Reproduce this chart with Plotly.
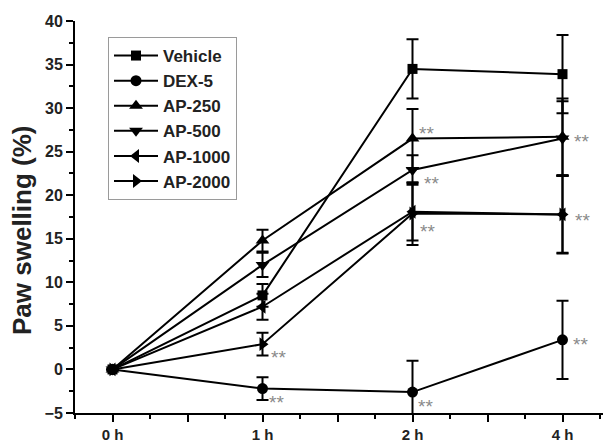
import plotly.graph_objects as go

# ---- data ----
time_labels = ["0 h", "1 h", "2 h", "4 h"]
time_pos = [0, 1, 2, 3]

series_names = ["Vehicle", "DEX-5", "AP-250", "AP-500", "AP-1000", "AP-2000"]
vehicle = [0, 8.5, 34.5, 33.9]
dex5 = [0, -2.2, -2.6, 3.4]
ap250 = [0, 14.8, 26.5, 26.7]
ap500 = [0, 12.0, 22.9, 26.5]
ap1000 = [0, 7.2, 18.1, 17.8]
ap2000 = [0, 2.9, 17.9, 17.8]

vehicle_err = [0, 1.3, 3.4, 4.5]
dex5_err = [0, 1.3, 3.6, 4.5]
ap250_err = [0, 1.25, 3.4, 4.4]
ap500_err = [0, 1.4, 1.7, 4.3]
ap1000_err = [0, 1.5, 3.3, 4.4]
ap2000_err = [0, 1.3, 3.6, 4.5]

y_title = "Paw swelling (%)"

# significance marks: (series index, time index)
sig_marks = [(5, 1), (1, 1), (1, 2), (2, 2), (3, 2), (4, 2), (2, 3), (4, 3), (1, 3)]

values = [vehicle, dex5, ap250, ap500, ap1000, ap2000]
errors = [vehicle_err, dex5_err, ap250_err, ap500_err, ap1000_err, ap2000_err]
symbols = ["square", "circle", "triangle-up", "triangle-down", "triangle-left", "triangle-right"]
sizes = [10, 11, 12, 12, 12, 12]

FONT = "Arial, Liberation Sans, sans-serif"

fig = go.Figure()
for name, vals, err, sym, sz in zip(series_names, values, errors, symbols, sizes):
    fig.add_trace(go.Scatter(
        x=time_pos, y=vals, name=name, mode="lines+markers",
        line=dict(color="black", width=2),
        marker=dict(symbol=sym, size=sz, color="black", line=dict(width=0)),
        error_y=dict(type="data", array=err, visible=True, color="black", thickness=2, width=6),
        showlegend=False,
    ))
# legend entries without error-bar glyphs
for name, sym, sz in zip(series_names, symbols, sizes):
    fig.add_trace(go.Scatter(
        x=[None], y=[None], name=name, mode="lines+markers",
        line=dict(color="black", width=2),
        marker=dict(symbol=sym, size=sz, color="black", line=dict(width=0)),
        showlegend=True, legendgroup=name,
    ))

# offsets (px, right / down) of the ** marks from their point
sig_shift = [(16, 8), (14, 8.5), (13, 9), (14, -10), (19, 8.5), (15, 14.5), (19, 0), (20, 1), (18, 0)]
for (si, ti), (dx, dy) in zip(sig_marks, sig_shift):
    fig.add_annotation(
        x=time_pos[ti], y=values[si][ti], text="**", showarrow=False,
        xshift=dx, yshift=-dy - 5, xanchor="center", yanchor="middle",
        font=dict(family=FONT, size=19, color="#8a8a8a"),
    )

# y-axis title as a rotated annotation
fig.add_annotation(
    xref="paper", yref="paper", x=(22 - 75) / 528, y=(413 - 230) / 392,
    text=y_title, textangle=-90, showarrow=False, xanchor="center", yanchor="middle",
    font=dict(family=FONT, size=26, color="#222", weight="bold"),
)

fig.update_layout(
    width=603, height=442,
    margin=dict(l=75, r=0, t=21, b=29, pad=0),
    paper_bgcolor="white", plot_bgcolor="white",
    showlegend=True,
    legend=dict(
        x=(108 - 75) / 528, y=(413 - 37) / 392, xanchor="left", yanchor="top",
        bordercolor="#9a9a9a", borderwidth=1, bgcolor="white",
        font=dict(family=FONT, size=17, color="#222", weight="bold"),
        tracegroupgap=0, itemwidth=44,
    ),
    xaxis=dict(
        automargin=False,
        range=[-0.25, 3.27],
        tickmode="array",
        tickvals=[0, 0.5, 1, 1.5, 2, 2.5, 3],
        ticktext=[time_labels[0], "", time_labels[1], "", time_labels[2], "", time_labels[3]],
        ticks="outside", ticklen=7, tickwidth=2, tickcolor="black",
        minor=dict(dtick=0.25, tick0=0, ticks="outside", ticklen=4, tickwidth=2, tickcolor="black"),
        showline=True, linecolor="black", linewidth=2,
        showgrid=False, zeroline=False,
        tickfont=dict(family=FONT, size=15, color="#222", weight="bold"),
    ),
    yaxis=dict(
        automargin=False,
        range=[-5, 40], dtick=5, tick0=0,
        ticks="outside", ticklen=7, tickwidth=2, tickcolor="black",
        minor=dict(dtick=2.5, tick0=0, ticks="outside", ticklen=4, tickwidth=2, tickcolor="black"),
        showline=True, linecolor="black", linewidth=2,
        showgrid=False, zeroline=False,
        tickfont=dict(family=FONT, size=16, color="#222", weight="bold"),
    ),
)

fig.write_html(
    "out.html",
    config={"displayModeBar": False},
    post_script="document.body.style.margin='0';document.body.style.overflow='hidden';",
)
